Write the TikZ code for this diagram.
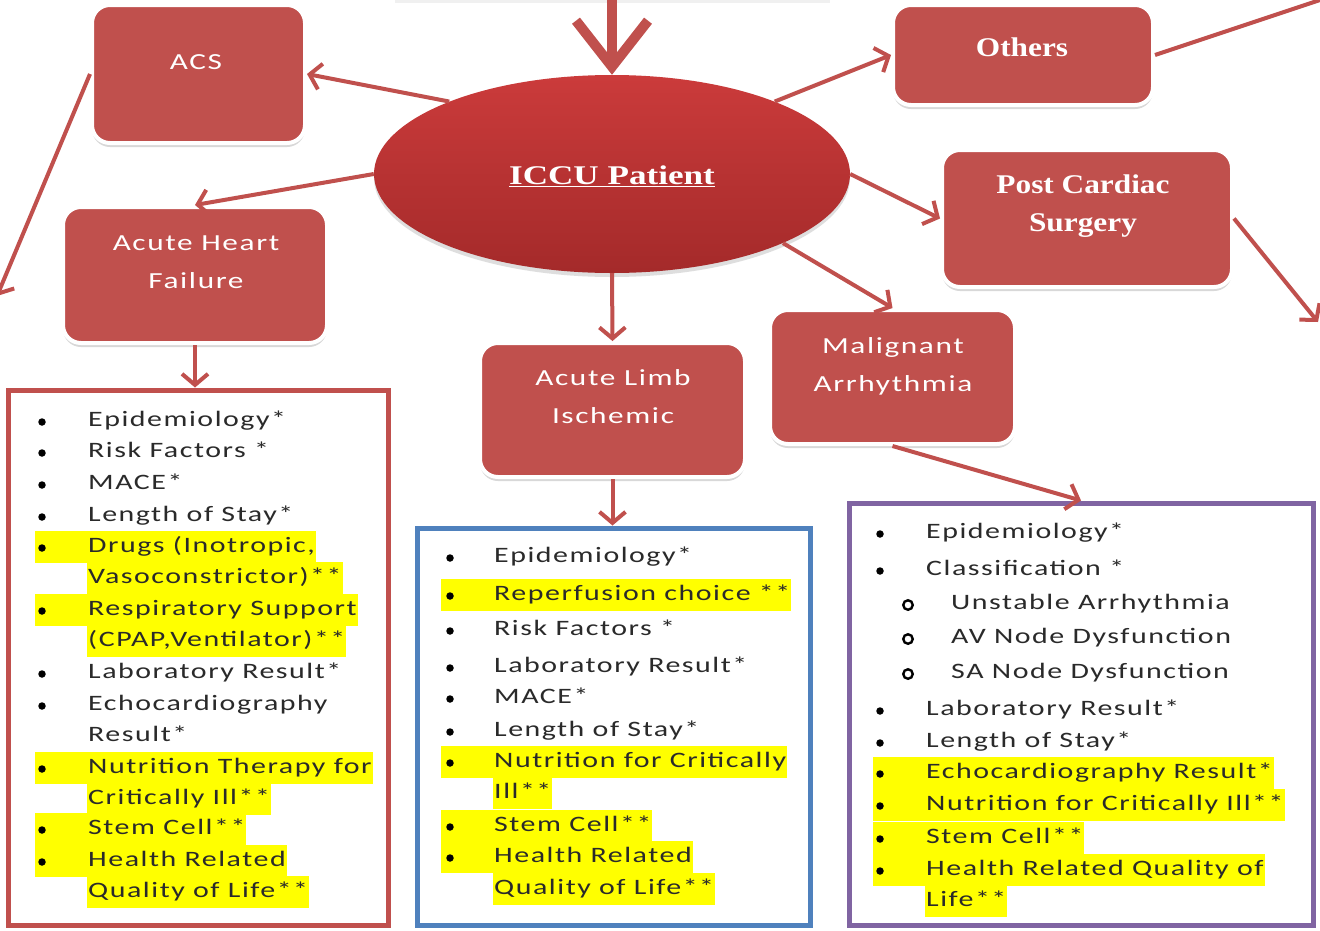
\documentclass[tikz,border=0pt]{standalone}
\usepackage{fontspec}
\setmainfont{Carlito}[FakeStretch=1.36,LetterSpace=7]
\newfontfamily\srf{Liberation Serif}[FakeStretch=1.16]
\newfontfamily\srfw{Liberation Serif}[FakeStretch=1.3]
\usetikzlibrary{arrows.meta,shadows,calc,shapes.geometric}
\definecolor{boxred}{HTML}{C0504D}
\definecolor{iccutop}{HTML}{CB3B3B}
\definecolor{iccubot}{HTML}{A42A2A}
\definecolor{lblue}{HTML}{4F81BD}
\definecolor{lpurp}{HTML}{8064A2}
\definecolor{hly}{HTML}{FFFF00}
\definecolor{txt}{HTML}{2A2A2A}
\tikzset{
  rbox/.style={rectangle, rounded corners=18pt, fill=boxred, draw=white, line width=4pt,
    drop shadow={shadow xshift=0pt, shadow yshift=-4pt, fill=black!30}, inner sep=0pt},
  btxt/.style={text=white, font=\fontsize{23}{38}\selectfont, align=center, inner sep=0pt},
  stxt/.style={text=white, font=\srf\bfseries\fontsize{27}{38}\selectfont, align=center, inner sep=0pt},
  conn/.style={draw=boxred, line width=4pt, -{Straight Barb[length=11pt,width=26pt]}},
  lbox/.style={rectangle, draw, line width=5pt, inner sep=0pt, fill=white},
  itx/.style={anchor=west, text=txt, font=\fontsize{22}{26}\selectfont, inner xsep=1pt, inner ysep=0pt,
    text height=15pt, text depth=5pt, minimum height=31.5pt},
  hl/.style={fill=hly},
  bul/.style={circle, fill=black, inner sep=0pt, minimum size=7.5pt},
  sbul/.style={circle, draw=black, line width=2.4pt, inner sep=0pt, minimum size=9.5pt}
}
\newcommand\itm[3]{\node[itx] (#1) at (\tx,#2) {#3}; \node[bul] (#1b) at (\bx,#2+1) {};}
\newcommand\cnt[3]{\node[itx] (#1) at (\tx,#2) {#3};}
\newcommand\hitm[3]{\node[itx,hl] (#1) at (\tx,#2) {#3};
  \fill[hly] (\hx,#2-15.75) rectangle (#1.south west);
  \node[bul] (#1b) at (\bx,#2+1) {};}
\newcommand\hcnt[3]{\node[itx,hl] (#1) at (\tx,#2) {#3};}
\newcommand\sitm[3]{\node[itx] (#1) at (\stx,#2) {#3}; \node[sbul] (#1b) at (\sbx,#2+1) {};}
\begin{document}
\begin{tikzpicture}[x=1pt,y=-1pt]
\useasboundingbox (0,0) rectangle (1320,930);
\clip (0,0) rectangle (1320,930);
\fill[white] (0,0) rectangle (1320,930);
\fill[black!6] (395,0) rectangle (830,3);

% central ellipse
\node[ellipse, minimum width=476pt, minimum height=198pt, top color=iccutop, bottom color=iccubot,
  drop shadow={shadow xshift=0pt, shadow yshift=-4pt, fill=black!25}] (iccu) at (612,174) {};
\node[text=white, font=\srfw\bfseries\fontsize{27}{30}\selectfont, inner sep=0pt] (iccuT) at (612,176) {\underline{ICCU Patient}};

% boxes
\node[rbox, minimum width=213pt, minimum height=138pt] (acs) at (198.5,74) {};
\node[rbox, minimum width=260pt, minimum height=100pt] (others) at (1023,55) {};
\node[rbox, minimum width=290pt, minimum height=137pt] (post) at (1087,218.5) {};
\node[rbox, minimum width=264pt, minimum height=136pt] (ahf) at (195,275) {};
\node[rbox, minimum width=265pt, minimum height=134pt] (limb) at (612.5,410) {};
\node[rbox, minimum width=245pt, minimum height=134pt] (mal) at (892.5,377) {};

\node[btxt] (acsT) at (196,62) {ACS};
\node[btxt] (ahfT) at (196,262) {Acute Heart\\Failure};
\node[btxt] (limbT) at (613,397) {Acute Limb\\Ischemic};
\node[btxt] (malT) at (893,366) {Malignant\\Arrhythmia};
\node[stxt] (othT) at (1022,47) {Others};
\node[stxt] (postT) at (1083,206) {Post Cardiac\\Surgery};

% list boxes
\node[lbox, draw=boxred, minimum width=380pt, minimum height=535pt] (redl) at (198,657.5) {};
\node[lbox, draw=lblue, minimum width=393pt, minimum height=397pt] (bluel) at (613.5,726.5) {};
\node[lbox, draw=lpurp, minimum width=464pt, minimum height=422pt] (purl) at (1081,714) {};

% connectors
\coordinate (topin) at (612,-12);
\coordinate (offL) at (-3,296);
\coordinate (offTR) at (1335,-5);
\coordinate (offR) at (1318,322);
\draw[draw=boxred, line width=10pt, -{Straight Barb[length=46pt,width=72pt]}] (topin) -- (iccu.north);
\draw[conn] (iccu.156) -- (acs.east);
\draw[conn] (iccu.west) -- (ahf.north);
\draw[conn] (iccu.24) -- (others.west);
\draw[conn] (iccu.east) -- (post.west);
\draw[conn] (iccu.-22) -- (mal.north);
\draw[conn] (iccu.south) -- (limb.north);
\draw[conn] (ahf.south) -- (ahf.south |- redl.north);
\draw[conn] (limb.south) -- (limb.south |- bluel.north);
\draw[conn] (mal.south) -- (purl.north);
\draw[conn] (acs.west) -- (offL);
\draw[conn] (others.east) -- (offTR);
\draw[conn] (post.east) -- (offR);

% red list
\def\bx{42}\def\tx{87}\def\hx{35}
\itm{r1}{421}{Epidemiology*}
\itm{r2}{452}{Risk Factors *}
\itm{r3}{484}{MACE*}
\itm{r4}{516}{Length of Stay*}
\hitm{r5}{547}{Drugs (Inotropic,}
\hcnt{r6}{578}{Vasoconstrictor)**}
\hitm{r7}{610}{Respiratory Support}
\hcnt{r8}{641}{(CPAP,Ventilator)**}
\itm{r9}{673}{Laboratory Result*}
\itm{r10}{705}{Echocardiography}
\cnt{r11}{736}{Result*}
\hitm{r12}{768}{Nutrition Therapy for}
\hcnt{r13}{799}{Critically Ill**}
\hitm{r14}{829}{Stem Cell**}
\hitm{r15}{861}{Health Related}
\hcnt{r16}{892}{Quality of Life**}

% blue list
\def\bx{450}\def\tx{493}\def\hx{441}
\itm{b1}{557}{Epidemiology*}
\hitm{b2}{595}{Reperfusion choice **}
\itm{b3}{630}{Risk Factors *}
\itm{b4}{667}{Laboratory Result*}
\itm{b5}{698}{MACE*}
\itm{b6}{731}{Length of Stay*}
\hitm{b7}{762}{Nutrition for Critically}
\hcnt{b8}{793}{Ill**}
\hitm{b9}{826}{Stem Cell**}
\hitm{b10}{857}{Health Related}
\hcnt{b11}{889}{Quality of Life**}

% purple list
\def\bx{880}\def\tx{925}\def\hx{873}\def\sbx{908}\def\stx{950}
\itm{p1}{533}{Epidemiology*}
\itm{p2}{570}{Classification *}
\sitm{p3}{604}{Unstable Arrhythmia}
\sitm{p4}{638}{AV Node Dysfunction}
\sitm{p5}{673}{SA Node Dysfunction}
\itm{p6}{710}{Laboratory Result*}
\itm{p7}{742}{Length of Stay*}
\hitm{p8}{773}{Echocardiography Result*}
\hitm{p9}{805}{Nutrition for Critically Ill**}
\hitm{p10}{838}{Stem Cell**}
\hitm{p11}{870}{Health Related Quality of}
\hcnt{p12}{901}{Life**}
\end{tikzpicture}
\end{document}
